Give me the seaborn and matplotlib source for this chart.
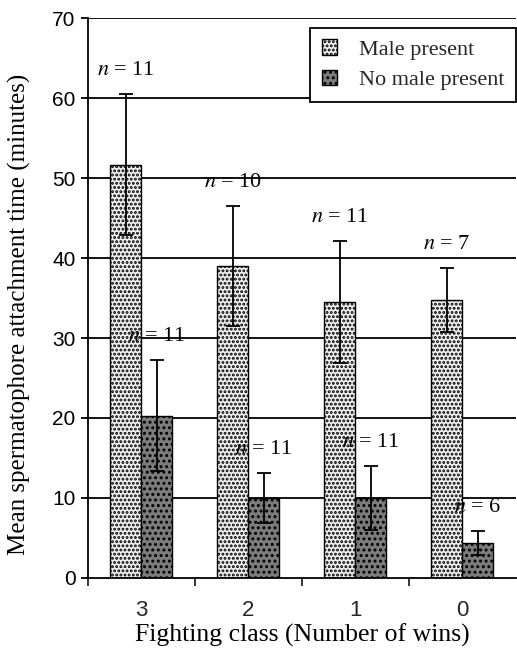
import matplotlib.pyplot as plt
import pandas as pd
import seaborn as sns

classes = ['3', '2', '1', '0']
male_mean = [51.7, 39.0, 34.5, 34.7]
male_se = [8.8, 7.5, 7.6, 4.0]
male_n = [11, 10, 11, 7]
nomale_mean = [20.3, 10.0, 10.0, 4.3]
nomale_se = [6.9, 3.1, 4.0, 1.5]
nomale_n = [11, 11, 11, 6]
groups = ['Male present', 'No male present']

sns.set_theme(style='white')
plt.rcParams['font.family'] = ['Liberation Serif', 'DejaVu Serif']
plt.rcParams['hatch.linewidth'] = 1.4

df = pd.DataFrame({
    'cls': classes * 2,
    'time': male_mean + nomale_mean,
    'group': [groups[0]] * 4 + [groups[1]] * 4,
})

fig = plt.figure(figsize=(5.17, 6.5), dpi=100)
ax = fig.add_axes([0.170, 0.111, 0.828, 0.861])

ax.set_axisbelow(True)
for v in range(10, 80, 10):
    ax.axhline(v, color='black', lw=1.3, zorder=0)

colors = ['#efefef', '#7c7c7c']
hatches = ['....', '...']
sns.barplot(data=df, x='cls', y='time', hue='group', order=classes,
            hue_order=groups, errorbar=None, width=0.58, ax=ax,
            palette=colors, edgecolor='black', linewidth=1.0,
            saturation=1, legend=False)

for cont, h in zip(ax.containers, hatches):
    for p in cont.patches:
        p.set_hatch(h)

for cont, means, ses, ns in zip(ax.containers, [male_mean, nomale_mean],
                                [male_se, nomale_se], [male_n, nomale_n]):
    for p, m, s, n in zip(cont.patches, means, ses, ns):
        cx = p.get_x() + p.get_width() / 2
        ax.errorbar(cx, m, yerr=s, color='black', lw=1.3, capsize=5,
                    capthick=1.3, zorder=5)
        ax.text(cx, m + s + 1.8, r'$n$' + ' = ' + str(n), ha='center',
                va='bottom', fontsize=16, color='black',
                family=['Liberation Serif'], math_fontfamily='stix')

ax.set_ylim(0, 70)
ax.set_xlim(-0.5, 3.5)
ax.set_yticks(range(0, 80, 10))
ax.tick_params(axis='y', labelsize=15, length=5, width=1.3, direction='out',
               left=True, colors='black', pad=4)
ax.tick_params(axis='x', which='major', labelsize=16, length=0, pad=16)
ax.set_xticks([-0.5, 0.5, 1.5, 2.5], minor=True)
ax.tick_params(axis='x', which='minor', length=6, width=1.3, bottom=True,
               direction='out')
for lab in ax.get_xticklabels() + ax.get_yticklabels():
    lab.set_family(['Liberation Sans'])

for side in ['top', 'right']:
    ax.spines[side].set_visible(False)
for side in ['left', 'bottom']:
    ax.spines[side].set_color('black')
    ax.spines[side].set_linewidth(1.3)

ax.set_xlabel('Fighting class (Number of wins)', fontsize=18.5, color='black',
              labelpad=2)
ax.set_ylabel('Mean spermatophore attachment time (minutes)', fontsize=18,
              color='black')
ax.yaxis.set_label_coords(-0.132, 0.47)

handles = [plt.Rectangle((0, 0), 1, 1, facecolor=c, edgecolor='black',
                         hatch=h, lw=1.0) for c, h in zip(colors, hatches)]
leg = ax.legend(handles, groups, loc='upper right',
                bbox_to_anchor=(1.0, 0.982), borderaxespad=0, fontsize=16,
                frameon=True, fancybox=False, edgecolor='black',
                handlelength=0.7, handleheight=0.7, borderpad=0.5,
                labelspacing=0.45, handletextpad=1.0)
leg.get_frame().set_linewidth(1.3)
leg.get_frame().set_alpha(1)

fig.savefig('out.png', dpi=100)
